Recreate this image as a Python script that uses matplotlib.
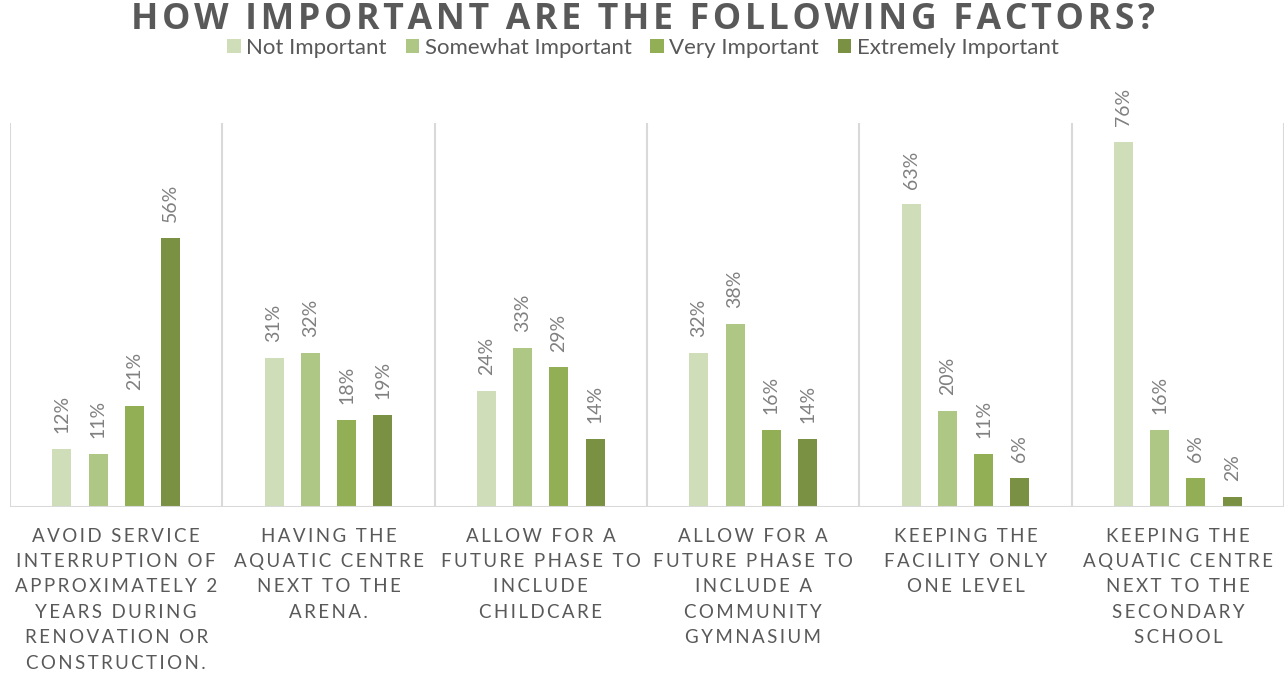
import matplotlib
matplotlib.use("Agg")
import matplotlib.pyplot as plt
from matplotlib.patches import Patch
from matplotlib.transforms import blended_transform_factory
import numpy as np

categories = [
    "AVOID SERVICE\nINTERRUPTION OF\nAPPROXIMATELY 2\nYEARS DURING\nRENOVATION OR\nCONSTRUCTION.",
    "HAVING THE\nAQUATIC CENTRE\nNEXT TO THE\nARENA.",
    "ALLOW FOR A\nFUTURE PHASE TO\nINCLUDE\nCHILDCARE",
    "ALLOW FOR A\nFUTURE PHASE TO\nINCLUDE A\nCOMMUNITY\nGYMNASIUM",
    "KEEPING THE\nFACILITY ONLY\nONE LEVEL",
    "KEEPING THE\nAQUATIC CENTRE\nNEXT TO THE\nSECONDARY\nSCHOOL",
]
series_names = ["Not Important", "Somewhat Important", "Very Important", "Extremely Important"]
not_important = [12, 31, 24, 32, 63, 76]
somewhat_important = [11, 32, 33, 38, 20, 16]
very_important = [21, 18, 29, 16, 11, 6]
extremely_important = [56, 19, 14, 14, 6, 2]
series_values = [not_important, somewhat_important, very_important, extremely_important]
colors = ["#CFDDB8", "#AFC785", "#92AF55", "#7A9143"]

FONT = ["Lato", "DejaVu Sans"]
TITLE_FONT = ["Open Sans", "DejaVu Sans"]
GREY = "#595959"


def spaced(s, sep="\u2009"):
    return "\n".join(sep.join(list(line)) for line in s.split("\n"))


fig = plt.figure(figsize=(12.86, 6.75), dpi=100)
ax = fig.add_axes([10 / 1286, 168.5 / 675, 1274 / 1286, 383.5 / 675])

n = len(categories)
x = np.arange(n)
step = 0.171
width = 0.0895
for k, (vals, col, name) in enumerate(zip(series_values, colors, series_names)):
    pos = x + (k - 1.5) * step
    ax.bar(pos, vals, width=width, color=col, label=name, zorder=3)
    for px, v in zip(pos, vals):
        ax.annotate(f"{v}%", (px, v), xytext=(0, 11.5), textcoords="offset points",
                    rotation=90, ha="center", va="bottom", fontsize=14,
                    color="#808080", family=FONT)

ax.set_xlim(-0.5, n - 0.5)
ax.set_ylim(0, 80)
for s in ax.spines.values():
    s.set_visible(False)
ax.set_xticks([])
ax.set_yticks([])
for b in np.arange(n + 1) - 0.5:
    ax.axvline(b, color="#D9D9D9", lw=1.5, zorder=1)
ax.axhline(0, color="#D9D9D9", lw=1.5, zorder=4)

trans = blended_transform_factory(ax.transData, ax.transAxes)
for i, c in enumerate(categories):
    ax.text(i, -0.055, spaced(c), transform=trans, ha="center", va="top",
            multialignment="center", fontsize=13.5, color=GREY, family=FONT,
            linespacing=1.6)

fig.text(0.5, 1 - 20 / 675, spaced("HOW IMPORTANT ARE THE FOLLOWING FACTORS?", "\u200a"),
         ha="center", va="center", fontsize=25.7, fontweight="bold", color=GREY,
         family=TITLE_FONT)

handles = [Patch(facecolor=c, edgecolor="none") for c in colors]
fig.legend(handles, series_names, loc="center", bbox_to_anchor=(0.5, 1 - 48 / 675),
           ncol=4, frameon=False, handlelength=0.6, handleheight=0.6,
           handletextpad=0.25, columnspacing=0.85, borderaxespad=0,
           prop={"family": FONT, "size": 16}, labelcolor=GREY)

fig.savefig("out.png", dpi=100)
